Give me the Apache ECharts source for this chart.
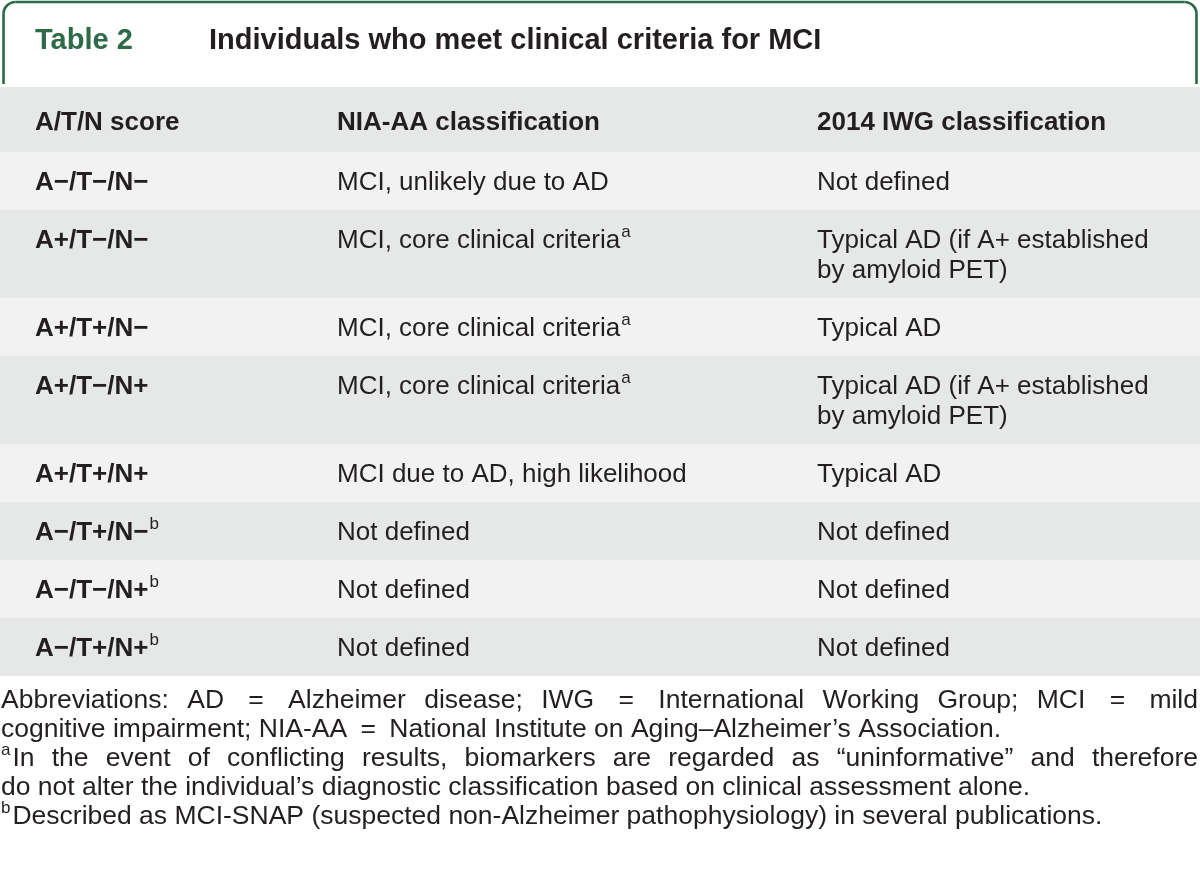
<!DOCTYPE html>
<html><head><meta charset="utf-8">
<script src="https://cdn.jsdelivr.net/npm/echarts@6/dist/echarts.min.js"></script>
<style>html,body{margin:0;padding:0;background:#fff}#c{width:1200px;height:891px}</style>
</head><body><div id="c"></div>
<script>
// ---------- data ----------
const tableLabel = 'Table 2';
const tableTitle = 'Individuals who meet clinical criteria for MCI';
const columnHeaders = ['A/T/N score', 'NIA-AA classification', '2014 IWG classification'];
const atnScores = ['A−/T−/N−', 'A+/T−/N−', 'A+/T+/N−', 'A+/T−/N+', 'A+/T+/N+', 'A−/T+/N−', 'A−/T−/N+', 'A−/T+/N+'];
const atnNotes = ['', '', '', '', '', 'b', 'b', 'b'];
const niaaaClass = ['MCI, unlikely due to AD', 'MCI, core clinical criteria', 'MCI, core clinical criteria', 'MCI, core clinical criteria', 'MCI due to AD, high likelihood', 'Not defined', 'Not defined', 'Not defined'];
const niaaaNotes = ['', 'a', 'a', 'a', '', '', '', ''];
const iwgClass = [
  ['Not defined'],
  ['Typical AD (if A+ established', 'by amyloid PET)'],
  ['Typical AD'],
  ['Typical AD (if A+ established', 'by amyloid PET)'],
  ['Typical AD'],
  ['Not defined'],
  ['Not defined'],
  ['Not defined']
];
const footnoteText = [
  'Abbreviations: AD = Alzheimer disease; IWG = International Working Group; MCI = mild',
  'cognitive impairment; NIA-AA = National Institute on Aging–Alzheimer’s Association.',
  'In the event of conflicting results, biomarkers are regarded as “uninformative” and therefore',
  'do not alter the individual’s diagnostic classification based on clinical assessment alone.',
  'Described as MCI-SNAP (suspected non-Alzheimer pathophysiology) in several publications.'
];
const footnoteMarks = ['', '', 'a', '', 'b'];
const footnoteJustify = [true, false, true, false, false];

// ---------- layout ----------
const W = 1200;
const FAM = '"Liberation Sans", Arial, sans-serif';
const GREEN = '#2c6a48';
const INK = '#231f20';
const DARK_ROW = '#e6e7e7';
const LIGHT_ROW = '#f2f2f2';
const colX = [35, 337, 817];
const headerTop = 87, headerBottom = 152;
const lineGap = 30;
const TEXT_DY = 2;
const bodyFont = '26px ' + FAM;
const boldFont = 'bold 26px ' + FAM;
const supFont = '17px ' + FAM;
const footFont = '26.5px ' + FAM;
const EQ_PAD = 6;

const mctx = document.createElement('canvas').getContext('2d');
function tw(t, f) { mctx.font = f; return mctx.measureText(t).width; }

const els = [];
function txt(x, y, t, font, fill) {
  els.push({ type: 'text', x: x, y: y + TEXT_DY, silent: true,
    style: { text: t, font: font, fill: fill || INK, align: 'left', verticalAlign: 'middle' } });
}
function sup(x, y, t) { txt(x, y - 9, t, supFont, INK); }

// frame (green tab outline with rounded top corners)
const frameStyle = { stroke: GREEN, lineWidth: 2.6, fill: null };
const R = 12, fL = 3.5, fR = 1196.5, fT = 2, fB = 84;
els.push({ type: 'polyline', silent: true, shape: { points: [[fL, fB], [fL, fT + R]] }, style: frameStyle });
els.push({ type: 'polyline', silent: true, shape: { points: [[fL + R, fT], [fR - R, fT]] }, style: frameStyle });
els.push({ type: 'polyline', silent: true, shape: { points: [[fR, fT + R], [fR, fB]] }, style: frameStyle });
els.push({ type: 'arc', silent: true, shape: { cx: fL + R, cy: fT + R, r: R, startAngle: Math.PI, endAngle: Math.PI * 1.5, clockwise: true }, style: frameStyle });
els.push({ type: 'arc', silent: true, shape: { cx: fR - R, cy: fT + R, r: R, startAngle: Math.PI * 1.5, endAngle: Math.PI * 2, clockwise: true }, style: frameStyle });

// title
txt(35, 39, tableLabel, 'bold 29px ' + FAM, GREEN);
txt(209, 39, tableTitle, 'bold 29px ' + FAM, INK);

// header
els.push({ type: 'rect', silent: true, shape: { x: 0, y: headerTop, width: W, height: headerBottom - headerTop }, style: { fill: DARK_ROW } });
columnHeaders.forEach((h, i) => txt(colX[i], 121, h, boldFont, INK));

// rows
let rowTop = headerBottom;
atnScores.forEach((s, r) => {
  const n = Math.max(1, iwgClass[r].length);
  const h = 28 + lineGap * n;
  els.push({ type: 'rect', silent: true, shape: { x: 0, y: rowTop, width: W, height: h }, style: { fill: r % 2 === 0 ? LIGHT_ROW : DARK_ROW } });
  const y0 = rowTop + 29;
  txt(colX[0], y0, s, boldFont, INK);
  if (atnNotes[r]) sup(colX[0] + tw(s, boldFont) + 1, y0, atnNotes[r]);
  txt(colX[1], y0, niaaaClass[r], bodyFont, INK);
  if (niaaaNotes[r]) sup(colX[1] + tw(niaaaClass[r], bodyFont) + 1, y0, niaaaNotes[r]);
  iwgClass[r].forEach((l, k) => txt(colX[2], y0 + k * lineGap, l, bodyFont, INK));
  rowTop += h;
});

// footnotes (word-by-word layout, wider spacing around "=", justified where needed)
const footY = [699, 728, 757, 786, 815];
const spaceW = tw(' ', footFont);
footnoteText.forEach((t, i) => {
  let x = 1;
  const y = footY[i];
  if (footnoteMarks[i]) { sup(x, y, footnoteMarks[i]); x += tw(footnoteMarks[i], supFont) + 2; }
  const words = t.split(' ');
  const ws = words.map(w => tw(w, footFont));
  const gaps = words.slice(1).map((w, k) => spaceW + ((w === '=' || words[k] === '=') ? EQ_PAD : 0));
  let extra = 0;
  if (footnoteJustify[i]) {
    const natural = ws.reduce((a, b) => a + b, 0) + gaps.reduce((a, b) => a + b, 0);
    extra = Math.max(0, (1198 - x - natural) / gaps.length);
  }
  words.forEach((w, k) => {
    txt(x, y, w, footFont, INK);
    x += ws[k] + (k < gaps.length ? gaps[k] + extra : 0);
  });
});

const chart = echarts.init(document.getElementById('c'), null, { renderer: 'canvas' });
chart.setOption({ backgroundColor: '#ffffff', animation: false, graphic: { elements: els } });
</script>
</body></html>
